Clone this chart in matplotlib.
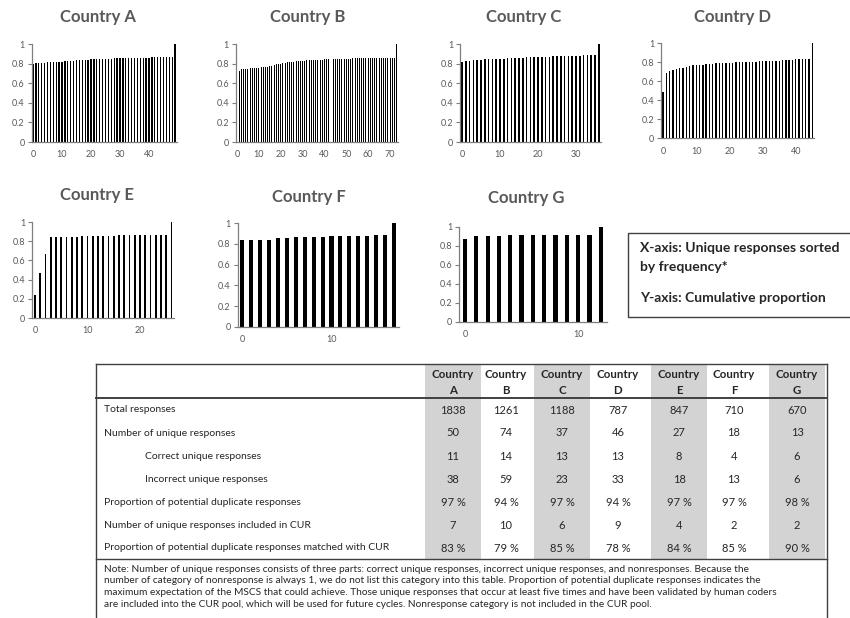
import matplotlib
matplotlib.use("Agg")
import matplotlib.pyplot as plt
from matplotlib.lines import Line2D
from matplotlib.patches import Rectangle
from matplotlib.ticker import FuncFormatter

plt.rcParams['font.family'] = ['Lato', 'DejaVu Sans']

# ---------------- data ----------------
countries = ["A", "B", "C", "D", "E", "F", "G"]

cum_a = [0.80, 0.81, 0.81, 0.81, 0.81, 0.815, 0.815, 0.82, 0.82, 0.82,
         0.82, 0.825, 0.825, 0.83, 0.83, 0.835, 0.835, 0.84, 0.84, 0.84,
         0.845, 0.845, 0.845, 0.85, 0.85, 0.85, 0.85, 0.85, 0.855, 0.855,
         0.855, 0.855, 0.855, 0.86, 0.86, 0.86, 0.86, 0.86, 0.86, 0.86,
         0.86, 0.865, 0.865, 0.865, 0.865, 0.865, 0.865, 0.865, 0.865, 1.0]
cum_b = [0.64, 0.72, 0.74, 0.745, 0.75, 0.75, 0.755, 0.755, 0.76, 0.76,
         0.76, 0.765, 0.765, 0.77, 0.77, 0.775, 0.78, 0.79, 0.795, 0.80,
         0.80, 0.805, 0.81, 0.815, 0.82, 0.82, 0.82, 0.825, 0.825, 0.83,
         0.83, 0.83, 0.835, 0.835, 0.835, 0.84, 0.84, 0.84, 0.84, 0.84,
         0.845, 0.845, 0.845, 0.845, 0.845, 0.845, 0.85, 0.85, 0.85, 0.85,
         0.85, 0.85, 0.85, 0.855, 0.855, 0.855, 0.855, 0.855, 0.855, 0.855,
         0.855, 0.86, 0.86, 0.86, 0.86, 0.86, 0.86, 0.86, 0.86, 0.86,
         0.86, 0.86, 0.86, 1.0]
cum_c = [0.82, 0.825, 0.83, 0.835, 0.84, 0.84, 0.845, 0.845, 0.845, 0.85,
         0.85, 0.85, 0.855, 0.855, 0.86, 0.86, 0.86, 0.865, 0.865, 0.865,
         0.87, 0.87, 0.87, 0.87, 0.875, 0.875, 0.875, 0.875, 0.88, 0.88,
         0.88, 0.88, 0.885, 0.885, 0.885, 0.885, 1.0]
cum_d = [0.49, 0.69, 0.71, 0.72, 0.73, 0.735, 0.74, 0.75, 0.76, 0.77,
         0.77, 0.775, 0.775, 0.78, 0.785, 0.785, 0.79, 0.79, 0.79, 0.795,
         0.795, 0.795, 0.80, 0.80, 0.80, 0.80, 0.805, 0.805, 0.805, 0.81,
         0.81, 0.81, 0.81, 0.815, 0.815, 0.815, 0.82, 0.82, 0.825, 0.825,
         0.83, 0.83, 0.835, 0.835, 0.84, 1.0]
cum_e = [0.24, 0.47, 0.67, 0.84, 0.84, 0.84, 0.84, 0.845, 0.845, 0.85,
         0.85, 0.855, 0.855, 0.855, 0.855, 0.855, 0.86, 0.86, 0.86, 0.86,
         0.86, 0.865, 0.865, 0.865, 0.865, 0.865, 1.0]
cum_f = [0.835, 0.835, 0.835, 0.84, 0.855, 0.86, 0.865, 0.87, 0.87, 0.87,
         0.875, 0.88, 0.88, 0.88, 0.88, 0.885, 0.885, 1.0]
cum_g = [0.875, 0.905, 0.905, 0.905, 0.91, 0.91, 0.91, 0.91, 0.91, 0.915,
         0.915, 0.915, 1.0]
cum_series = [cum_a, cum_b, cum_c, cum_d, cum_e, cum_f, cum_g]
x_ticks = [[0, 10, 20, 30, 40], [0, 10, 20, 30, 40, 50, 60, 70],
           [0, 10, 20, 30], [0, 10, 20, 30, 40], [0, 10, 20], [0, 10], [0, 10]]
y_ticks = [0, 0.2, 0.4, 0.6, 0.8, 1]

row_labels = ["Total responses",
              "Number of unique responses",
              "Correct unique responses",
              "Incorrect unique responses",
              "Proportion of potential duplicate responses",
              "Number of unique responses included in CUR",
              "Proportion of potential duplicate responses matched with CUR"]
row_indented = [False, False, True, True, False, False, False]
total_responses = [1838, 1261, 1188, 787, 847, 710, 670]
unique_responses = [50, 74, 37, 46, 27, 18, 13]
correct_unique = [11, 14, 13, 13, 8, 4, 6]
incorrect_unique = [38, 59, 23, 33, 18, 13, 6]
prop_duplicate = [97, 94, 97, 94, 97, 97, 98]
cur_included = [7, 10, 6, 9, 4, 2, 2]
prop_matched_cur = [83, 79, 85, 78, 84, 85, 90]

note_lines = [
    "Note: Number of unique responses consists of three parts: correct unique responses, incorrect unique responses, and nonresponses. Because the",
    "number of category of nonresponse is always 1, we do not list this category into this table. Proportion of potential duplicate responses indicates the",
    "maximum expectation of the MSCS that could achieve. Those unique responses that occur at least five times and have been validated by human coders",
    "are included into the CUR pool, which will be used for future cycles. Nonresponse category is not included in the CUR pool.",
]
legend_lines = ["X-axis: Unique responses sorted", "by frequency*", "Y-axis: Cumulative proportion"]

# ---------------- layout (pixels) ----------------
W, H = 850, 618
fig = plt.figure(figsize=(W / 100, H / 100), dpi=100)
fig.patch.set_facecolor("white")


def fx(x):
    return x / W


def fy(y):
    return 1 - y / H


# per panel: x pixel of index 0, pixels per index, y pixel of 0, y pixel of 1,
# bar width (fraction of slot), title centre x, title y
panels = [
    (33, 2.9, 142, 44, 0.42, 98, 17),
    (237, 2.186, 142, 44, 0.45, 308, 17),
    (462, 3.8, 142, 44, 0.40, 524, 17),
    (663, 3.32, 138.3, 43.3, 0.40, 732, 17),
    (35, 5.25, 318, 222, 0.34, 97, 195),
    (242, 8.95, 326.7, 223.3, 0.45, 309, 197),
    (465, 11.33, 321.7, 226.7, 0.38, 526, 198),
]

axis_grey = "#7f7f7f"
label_grey = "#595959"

for i, (vals, (px0, pxu, y0, y1, bw, tx, ty)) in enumerate(zip(cum_series, panels)):
    n = len(vals)
    xl, xr = -0.5, n - 0.5
    left = px0 + xl * pxu
    width = (xr - xl) * pxu
    ax = fig.add_axes([fx(left), fy(y0), width / W, (y0 - y1) / H])
    ax.bar(range(n), vals, width=bw, color="black", linewidth=0, clip_on=False)
    ax.set_xlim(xl, xr)
    ax.set_ylim(0, 1)
    for s in ["top", "right"]:
        ax.spines[s].set_visible(False)
    for s in ["left", "bottom"]:
        ax.spines[s].set_color(axis_grey)
        ax.spines[s].set_linewidth(0.9)
    ax.set_yticks(y_ticks)
    ax.yaxis.set_major_formatter(FuncFormatter(lambda v, p: "%g" % v))
    ax.set_xticks(x_ticks[i])
    ax.tick_params(axis="y", length=3, width=0.8, color=axis_grey,
                   labelsize=6.5, labelcolor=label_grey, pad=2)
    ax.tick_params(axis="x", length=0, labelsize=6.5, labelcolor=label_grey, pad=6)
    ax.patch.set_alpha(0)
    fig.text(fx(tx), fy(ty), "Country " + countries[i], ha="center", va="center",
             fontsize=12, fontweight="bold", color=label_grey)

# axis description box
fig.add_artist(Rectangle((fx(628), fy(317)), (856 - 628) / W, (317 - 233) / H,
                         transform=fig.transFigure, facecolor="white",
                         edgecolor="#404040", linewidth=1.0, clip_on=False))
for txt, yy in zip(legend_lines, [248, 267, 298]):
    fig.text(fx(640), fy(yy), txt, ha="left", va="center", fontsize=10,
             fontweight="bold", color="#262626")

# ---------------- table ----------------
t_left, t_right, t_top, t_head, t_sep, t_bottom = 96, 827, 364, 398, 559, 640
col_centres = [453, 506, 562, 618, 679, 734, 797]
shade_half = 28
shade = "#d3d3d3"
for j, c in enumerate(col_centres):
    if j % 2 == 0:
        fig.add_artist(Rectangle((fx(c - shade_half), fy(t_sep)), 2 * shade_half / W,
                                 (t_sep - t_top) / H, transform=fig.transFigure,
                                 facecolor=shade, edgecolor="none"))

line_col = "#404040"


def hline(y, x0=t_left, x1=t_right, lw=1.0):
    fig.add_artist(Line2D([fx(x0), fx(x1)], [fy(y), fy(y)], transform=fig.transFigure,
                          color=line_col, linewidth=lw))


def vline(x, ya, yb, lw=1.0):
    fig.add_artist(Line2D([fx(x), fx(x)], [fy(ya), fy(yb)], transform=fig.transFigure,
                          color=line_col, linewidth=lw))


hline(t_top)
hline(t_head, lw=1.4)
hline(t_sep)
vline(t_left, t_top, t_bottom)
vline(t_right, t_top, t_bottom)

text_col = "#262626"
for j, c in enumerate(col_centres):
    fig.text(fx(c), fy(375), "Country", ha="center", va="center", fontsize=8.3,
             fontweight="bold", color=text_col)
    fig.text(fx(c), fy(391), countries[j], ha="center", va="center", fontsize=8.3,
             fontweight="bold", color=text_col)

table_rows = [
    [str(v) for v in total_responses],
    [str(v) for v in unique_responses],
    [str(v) for v in correct_unique],
    [str(v) for v in incorrect_unique],
    ["%d %%" % v for v in prop_duplicate],
    [str(v) for v in cur_included],
    ["%d %%" % v for v in prop_matched_cur],
]
row_y = [410, 433, 456.5, 479.5, 502.5, 525.5, 548]
for lab, ind, cells, yy in zip(row_labels, row_indented, table_rows, row_y):
    fig.text(fx(145 if ind else 104), fy(yy), lab, ha="left", va="center",
             fontsize=7.5, color=text_col)
    for c, s in zip(col_centres, cells):
        fig.text(fx(c), fy(yy), s, ha="center", va="center", fontsize=8,
                 color=text_col)

for k, line in enumerate(note_lines):
    fig.text(fx(104), fy(569 + 11.8 * k), line, ha="left", va="center",
             fontsize=7.3, color=text_col)

fig.savefig("out.png", dpi=100, facecolor="white")
